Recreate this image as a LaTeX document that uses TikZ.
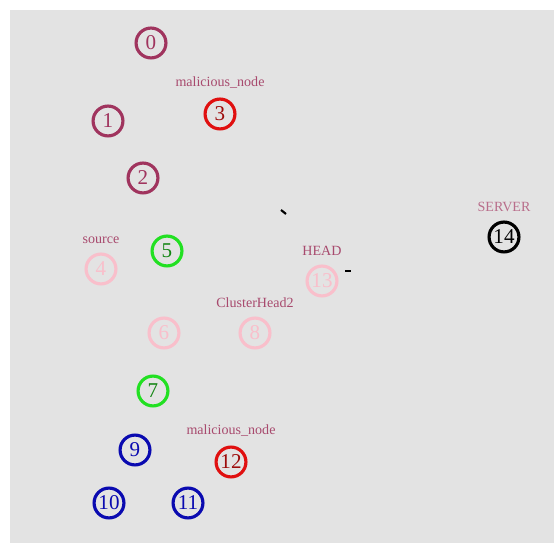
\documentclass[tikz,border=0pt]{standalone}
\usepackage{fontspec}
\setmainfont{Liberation Serif}
\usepackage{tikz}
\usetikzlibrary{positioning}
\definecolor{bggray}{HTML}{E3E3E3}
\definecolor{maroon}{HTML}{A0345E}
\definecolor{badred}{HTML}{E01010}
\definecolor{okgreen}{HTML}{22E022}
\definecolor{deepblue}{HTML}{0A0AB0}
\definecolor{palepink}{HTML}{F9BFCB}
\definecolor{tagtext}{HTML}{A84A6E}

\begin{document}
\begin{tikzpicture}[
                x=0.02cm, y=-0.02cm,
                sensor/.style={circle, draw, line width=1.8pt, minimum size=17pt, inner sep=0pt, font=\fontsize{12}{12}\selectfont},
                plain/.style={sensor, draw=maroon, text=maroon},
                attacker/.style={sensor, draw=badred, text=badred!70!black},
                relay/.style={sensor, draw=okgreen, text=okgreen!60!black},
                member/.style={sensor, draw=deepblue, text=deepblue},
                faded/.style={sensor, draw=palepink, text=palepink},
                sink/.style={sensor, draw=black, text=black},
                tag/.style={text=tagtext, font=\fontsize{8}{8}\selectfont, inner sep=1pt}
            ]%
            % Fondo
            \useasboundingbox (0,0) rectangle (554,543);
            \fill[bggray] (10,10) rectangle (554,543);
            %
            % Nodos superiores
            \node[plain] (n0) at (151,43) {0};
            \node[plain] (n1) at (108,121) {1};
            \node[attacker] (n3) at (220,114) {3};
            \node[plain] (n2) at (143,178) {2};
            %
            % Nodos centrales
            \node[faded] (n4) at (101,269) {4};
            \node[relay] (n5) at (167,251) {5};
            \node[faded] (n13) at (322,281) {13};
            \node[faded] (n6) at (164,333) {6};
            \node[faded] (n8) at (255,333) {8};
            %
            % Nodos inferiores
            \node[relay] (n7) at (153,391) {7};
            \node[member] (n9) at (135,450) {9};
            \node[attacker] (n12) at (231,462) {12};
            \node[member] (n10) at (109,503) {10};
            \node[member] (n11) at (188,503) {11};
            %
            % Servidor
            \node[sink] (n14) at (504,237) {14};
            %
            % Etiquetas
            \node[tag, above=4pt of n3] (t3) {malicious\_node};
            \node[tag, above=4pt of n4] (t4) {source};
            \node[tag, above=4pt of n13] (t13) {HEAD};
            \node[tag, above=4pt of n8] (t8) {ClusterHead2};
            \node[tag, above=4pt of n12] (t12) {malicious\_node};
            \node[tag, above=4pt of n14, text=tagtext!80] (t14) {SERVER};
            %
            % Paquetes en transito
            \draw[line width=1.2pt] (281,210) -- (286,214);
            \draw[line width=1.2pt] (345,271) -- (351,271);
        \end{tikzpicture}
\end{document}
